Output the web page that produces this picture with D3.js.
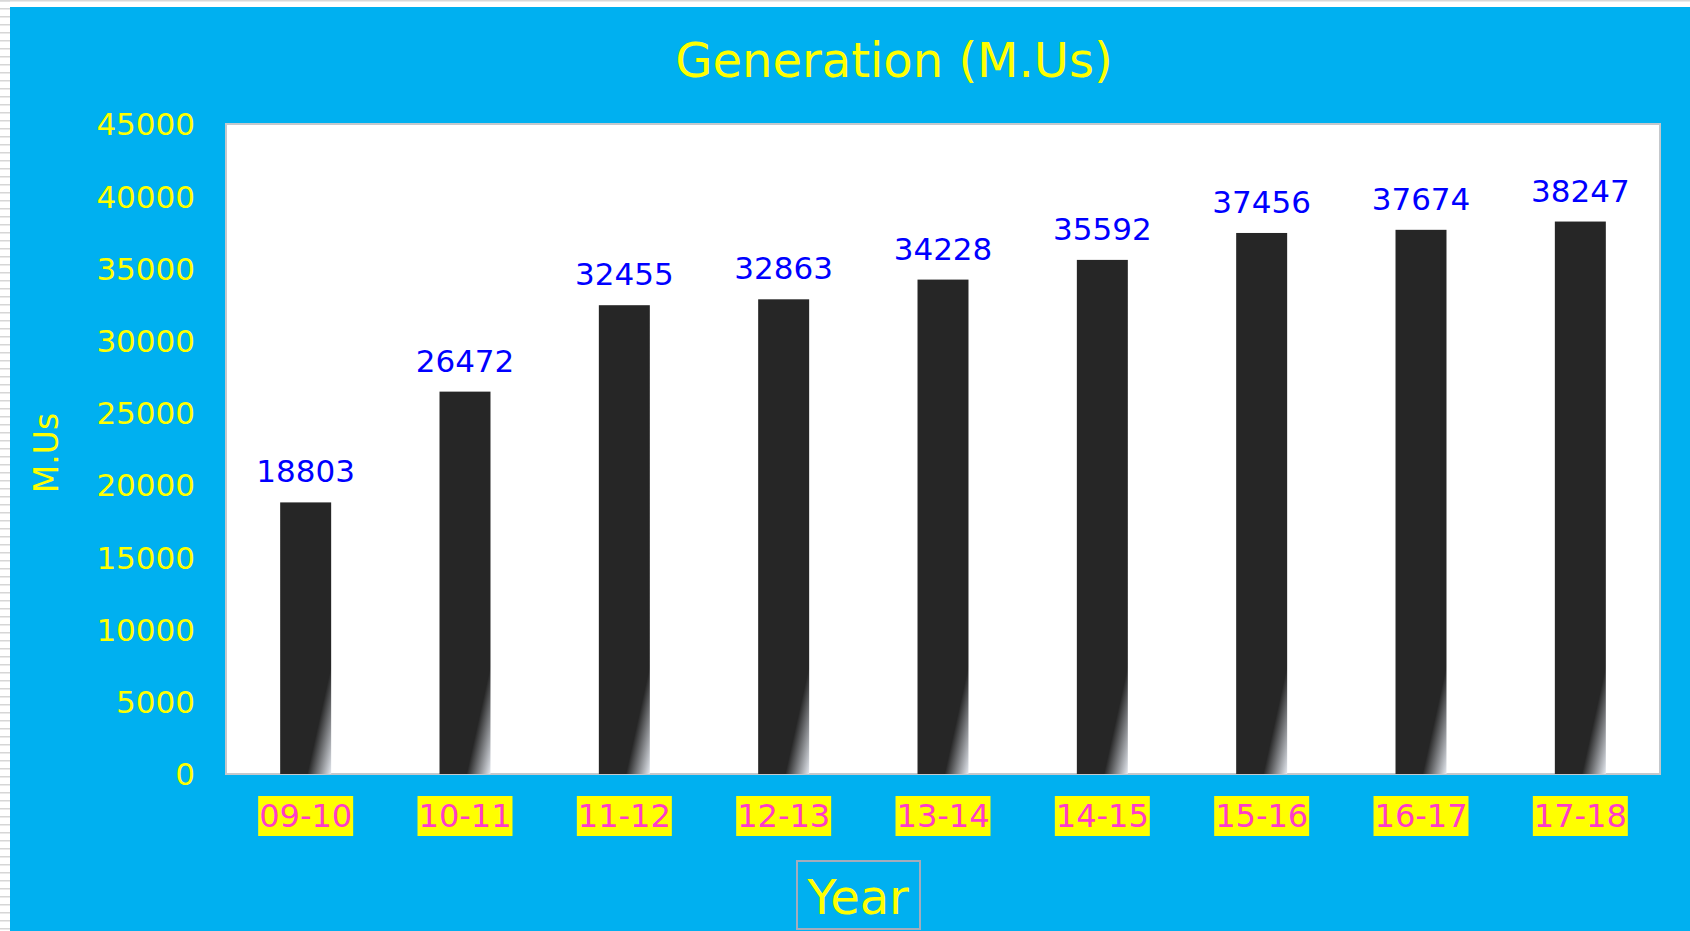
<!DOCTYPE html>
<html>
<head>
<meta charset="utf-8">
<script src="https://cdn.jsdelivr.net/npm/d3@7"></script>
<style>
    body { margin: 0; background: #fff; overflow: hidden; }
    text { font-family: "DejaVu Sans", Verdana, sans-serif; }
</style>
</head>
<body>
<div id="chart"></div>
<script>
// Datos
const years = ['09-10', '10-11', '11-12', '12-13', '13-14', '14-15', '15-16', '16-17', '17-18'];
const generation = [18803, 26472, 32455, 32863, 34228, 35592, 37456, 37674, 38247];
const yTicks = [0, 5000, 10000, 15000, 20000, 25000, 30000, 35000, 40000, 45000];

const width = 1690;
const height = 931;
const plot = { left: 226, top: 124, right: 1660, bottom: 774 };

const svg = d3.select('#chart')
    .append('svg')
    .attr('width', width)
    .attr('height', height);

const defs = svg.append('defs');

// Borde de hoja (rayas grises a la izquierda)
const pattern = defs.append('pattern')
    .attr('id', 'rules')
    .attr('patternUnits', 'userSpaceOnUse')
    .attr('width', 10)
    .attr('height', 8);
pattern.append('rect').attr('width', 10).attr('height', 8).attr('fill', '#fff');
pattern.append('rect').attr('y', 0).attr('width', 10).attr('height', 1.5).attr('fill', '#d6d6d6');

svg.append('rect').attr('x', 0).attr('y', 0).attr('width', 10).attr('height', height).attr('fill', 'url(#rules)');
svg.append('rect').attr('x', 0).attr('y', 0).attr('width', width).attr('height', 1.5).attr('fill', '#d8d8d8');

// Fondo azul del gráfico
svg.append('rect')
    .attr('x', 10)
    .attr('y', 7)
    .attr('width', width - 10)
    .attr('height', height - 7)
    .attr('fill', '#00b0f0');

// Área del gráfico
svg.append('rect')
    .attr('x', plot.left)
    .attr('y', plot.top)
    .attr('width', plot.right - plot.left)
    .attr('height', plot.bottom - plot.top)
    .attr('fill', '#fff')
    .attr('stroke', '#c4c8cc')
    .attr('stroke-width', 2);

// Escalas
const x = d3.scaleBand()
    .domain(years)
    .range([plot.left, plot.right])
    .paddingInner(0.68)
    .paddingOuter(0.34);

const y = d3.scaleLinear()
    .domain([0, 45000])
    .range([plot.bottom, plot.top]);

// Degradado por barra (brillo en la esquina inferior derecha)
const shineH = 108, shineW = 24;
generation.forEach((v, i) => {
    const x0 = x(years[i]);
    const w = x.bandwidth();
    const ax = x0 + w - shineW, ay = plot.bottom;
    const dx = shineW, dy = -shineH;
    const t = (shineW * dx) / (dx * dx + dy * dy);
    const g = defs.append('linearGradient')
        .attr('id', 'shine' + i)
        .attr('gradientUnits', 'userSpaceOnUse')
        .attr('x1', ax + t * dx)
        .attr('y1', ay + t * dy)
        .attr('x2', x0 + w)
        .attr('y2', plot.bottom);
    g.append('stop').attr('offset', 0).attr('stop-color', '#262626');
    g.append('stop').attr('offset', 1).attr('stop-color', '#e4e8ef');
});

// Barras
svg.append('g')
    .selectAll('rect')
    .data(generation)
    .enter().append('rect')
    .attr('x', (d, i) => x(years[i]))
    .attr('y', d => y(d))
    .attr('width', x.bandwidth())
    .attr('height', d => y(0) - y(d))
    .attr('fill', (d, i) => 'url(#shine' + i + ')');

// Etiquetas de datos
svg.append('g')
    .selectAll('text')
    .data(generation)
    .enter().append('text')
    .attr('x', (d, i) => x(years[i]) + x.bandwidth() / 2)
    .attr('y', d => y(d) - 20)
    .attr('text-anchor', 'middle')
    .attr('font-size', '31px')
    .attr('fill', '#0000ff')
    .text(d => d);

// Eje Y
const yAxis = svg.append('g')
    .attr('transform', `translate(${plot.left - 31},0)`)
    .call(d3.axisLeft(y).tickValues(yTicks).tickFormat(d3.format('d')).tickSize(0).tickPadding(0));
yAxis.select('.domain').remove();
yAxis.selectAll('text')
    .attr('font-size', '31px')
    .attr('fill', '#ffff00')
    .attr('dy', '0.35em')
    .style('font-family', '"DejaVu Sans", Verdana, sans-serif');

// Eje X con fondo amarillo en las etiquetas
const xAxis = svg.append('g')
    .attr('transform', `translate(0,${plot.bottom})`)
    .call(d3.axisBottom(x).tickSize(0).tickPadding(0));
xAxis.select('.domain').remove();
xAxis.selectAll('text')
    .attr('font-size', '32px')
    .attr('fill', '#ff3cc8')
    .attr('y', 42)
    .attr('dy', '0.35em')
    .style('font-family', '"DejaVu Sans", Verdana, sans-serif');
xAxis.selectAll('.tick').each(function() {
    const tick = d3.select(this);
    const bb = tick.select('text').node().getBBox();
    tick.insert('rect', 'text')
        .attr('x', bb.x - 1)
        .attr('y', 22)
        .attr('width', bb.width + 2)
        .attr('height', 40)
        .attr('fill', '#ffff00');
});

// Título
svg.append('text')
    .attr('x', 894)
    .attr('y', 77)
    .attr('text-anchor', 'middle')
    .attr('font-size', '48px')
    .attr('fill', '#ffff00')
    .text('Generation (M.Us)');

// Título eje Y
svg.append('text')
    .attr('transform', 'translate(58,453) rotate(-90)')
    .attr('text-anchor', 'middle')
    .attr('font-size', '33px')
    .attr('fill', '#ffff00')
    .text('M.Us');

// Título eje X con recuadro
svg.append('rect')
    .attr('x', 797)
    .attr('y', 861)
    .attr('width', 123)
    .attr('height', 68)
    .attr('fill', 'none')
    .attr('stroke', '#a4acbc')
    .attr('stroke-width', 2);
svg.append('text')
    .attr('x', 858)
    .attr('y', 914)
    .attr('text-anchor', 'middle')
    .attr('font-size', '48px')
    .attr('fill', '#ffff00')
    .text('Year');
</script>
</body>
</html>
